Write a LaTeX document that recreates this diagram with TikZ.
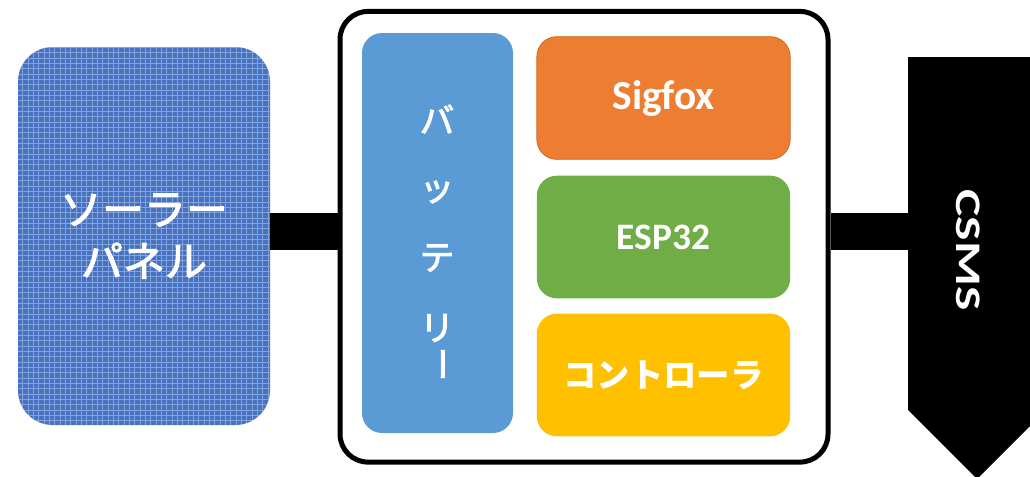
\documentclass[tikz,border=0pt]{standalone}
\usepackage{fontspec}
\usepackage{graphicx}
\setmainfont{Carlito}
\newfontfamily\jp{Noto Sans CJK JP}
\newfontfamily\jpm[FakeBold=2.5]{Noto Sans CJK JP}
\definecolor{panelblue}{HTML}{4472C4}
\definecolor{batblue}{HTML}{5B9BD5}
\definecolor{sfox}{HTML}{ED7D31}
\definecolor{sfoxedge}{HTML}{C8692A}
\definecolor{espgreen}{HTML}{70AD47}
\definecolor{ctlyellow}{HTML}{FFC000}
\begin{document}
\begin{tikzpicture}[x=0.75pt,y=-0.75pt,
  rbox/.style={rounded corners=15pt, inner sep=0pt, text=white},
  modbox/.style={rbox, minimum width=190pt, minimum height=92pt},
  bar/.style={line width=27.75pt},
  jpc/.style={text=white, inner sep=0pt, font=\jpm\fontsize{26pt}{26pt}\selectfont}]
\useasboundingbox (0,0) rectangle (1030,476);
\clip (0,0) rectangle (1030,476);
% solar panel
\node[rbox, rounded corners=26pt, fill=panelblue, minimum width=189pt, minimum height=283.5pt,
  align=center, font=\jpm\fontsize{31.5pt}{39pt}\selectfont,
  path picture={\draw[white, opacity=.35, line width=.5pt]
    (path picture bounding box.south west) grid[step=4pt] (path picture bounding box.north east);}]
  (solar) at (144,236) {ソーラー\\パネル};
% container
\node[draw=black, line width=3.75pt, rounded corners=21pt, minimum width=366pt, minimum height=338pt, inner sep=0pt]
  (box) at (584,236.75) {};
% battery
\node[rbox, fill=batblue, minimum width=113.25pt, minimum height=300pt] (bat) at (437.5,233) {};
\node[jpc] (b1) at (437,119) {バ};
\node[jpc] (b2) at (437,192) {ッ};
\node[jpc] (b3) at (437,258) {テ};
\node[jpc] (b4) at (437,328) {リ};
\node[jpc, rotate=-90] (b5) at (437,364) {ー};
% modules
\node[modbox, fill=sfox, draw=sfoxedge, line width=.6pt, font=\bfseries\fontsize{31pt}{31pt}\selectfont]
  (sig) at (663.5,98) {Sigfox};
\node[modbox, fill=espgreen, font=\bfseries\fontsize{28pt}{28pt}\selectfont]
  (esp) at (663.5,237) {ESP32};
\node[modbox, fill=ctlyellow, font=\jp\bfseries\fontsize{25pt}{25pt}\selectfont]
  (ctl) at (663.5,375) {コントローラ};
% CSMS arrow
\fill[black] (908,57) -- (1046,57) -- (1046,410) -- (977,479) -- (908,410) -- cycle;
\node[rotate=-90, text=white, inner sep=0pt, font=\bfseries\fontsize{27pt}{27pt}\selectfont]
  (csms) at (968,250) {\scalebox{1.43}[1]{CSMS}};
% connectors
\coordinate (yb) at (0,231.5);
\coordinate (csmsL) at (909,231.5);
\draw[bar] (solar.east |- yb) -- (box.west |- yb);
\draw[bar] (box.east |- yb) -- (csmsL);
\end{tikzpicture}
\end{document}
